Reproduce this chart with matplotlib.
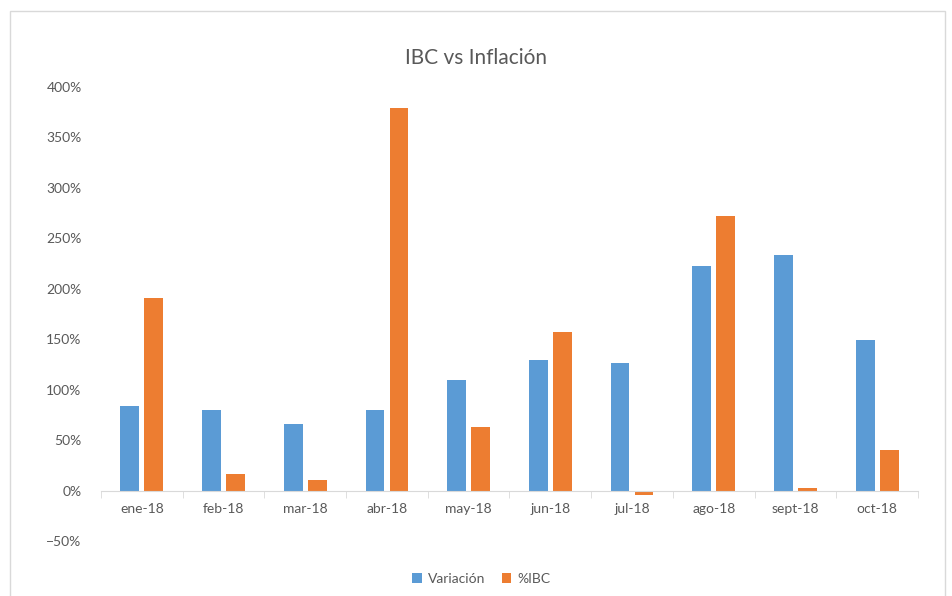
import numpy as np
import matplotlib.pyplot as plt
from matplotlib.patches import Rectangle
from matplotlib.ticker import PercentFormatter, FixedLocator

plt.rcParams['font.family'] = ['Lato', 'DejaVu Sans']

# Datos
meses = ['ene-18', 'feb-18', 'mar-18', 'abr-18', 'may-18',
         'jun-18', 'jul-18', 'ago-18', 'sept-18', 'oct-18']
variacion = [0.84, 0.80, 0.66, 0.80, 1.10, 1.29, 1.26, 2.23, 2.33, 1.49]
ibc = [1.91, 0.16, 0.10, 3.79, 0.63, 1.57, -0.04, 2.72, 0.03, 0.40]

azul = '#5B9BD5'
naranja = '#ED7D31'
gris = '#595959'
gris_linea = '#D9D9D9'

fig = plt.figure(figsize=(9.53, 5.96), dpi=100)
# Borde del gráfico
fig.patches.append(Rectangle((10 / 953, -0.05), 935 / 953, 1 - 11 / 596 + 0.05,
                             transform=fig.transFigure, fill=False,
                             edgecolor=gris_linea, linewidth=1))

ax = fig.add_axes([101 / 953, 1 - 541 / 596, 817 / 953, (541 - 87) / 596])

x = np.arange(len(meses))
w = 0.23
ax.bar(x - 0.147, variacion, w, color=azul, label='Variación')
ax.bar(x + 0.147, ibc, w, color=naranja, label='%IBC')

ax.set_xlim(-0.5, len(meses) - 0.5)
ax.set_ylim(-0.5, 4.0)
ax.set_yticks(np.arange(-0.5, 4.01, 0.5))
ax.yaxis.set_major_formatter(PercentFormatter(1.0, decimals=0))

for s in ['top', 'right', 'left']:
    ax.spines[s].set_visible(False)
ax.spines['bottom'].set_position(('data', 0))
ax.spines['bottom'].set_color(gris_linea)

ax.set_xticks(x)
ax.set_xticklabels(meses)
ax.xaxis.set_minor_locator(FixedLocator(np.arange(-0.5, len(meses), 1.0)))
ax.tick_params(axis='x', which='major', length=0, pad=9, labelsize=10, labelcolor=gris)
ax.tick_params(axis='x', which='minor', length=5, color=gris_linea, direction='out')
ax.tick_params(axis='y', length=0, pad=14, labelsize=10, labelcolor=gris)

fig.text(0.5, 1 - 58 / 596, 'IBC vs Inflación', ha='center', va='center',
         fontsize=15, color=gris)

fig.legend(loc='center', bbox_to_anchor=(0.505, 1 - 579 / 596), ncol=2,
           frameon=False, fontsize=10, labelcolor=gris, handlelength=0.7,
           handleheight=0.7, handletextpad=0.4, columnspacing=1.2)

fig.savefig('out.png', dpi=100)
